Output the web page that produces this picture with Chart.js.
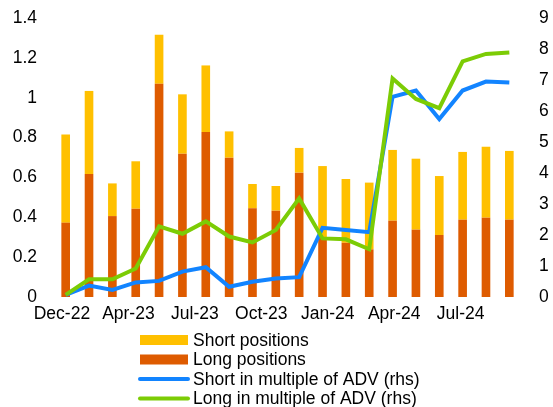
<!DOCTYPE html>
<html>
<head>
<meta charset="utf-8">
<script src="https://cdn.jsdelivr.net/npm/chart.js@4"></script>
<style>
  html, body { margin: 0; padding: 0; background: #fff; }
  #wrap { width: 553px; height: 407px; position: relative; }
</style>
</head>
<body>
<div id="wrap"><canvas id="chart"></canvas></div>
<script>
// monthly observations
const months = ['Dec-22','Jan-23','Feb-23','Mar-23','Apr-23','May-23','Jun-23','Jul-23','Aug-23','Sep-23',
                'Oct-23','Nov-23','Dec-23','Jan-24','Feb-24','Mar-24','Apr-24','May-24','Jun-24','Jul-24'];
const axisLabels = ['Dec-22','Apr-23','Jul-23','Oct-23','Jan-24','Apr-24','Jul-24'];

const longPositions  = [0.373, 0.617, 0.406, 0.443, 1.070, 0.719, 0.828, 0.699, 0.445, 0.433,
                        0.624, 0.300, 0.272, 0.239, 0.383, 0.338, 0.311, 0.388, 0.398, 0.388];
const shortPositions = [0.443, 0.417, 0.164, 0.238, 0.246, 0.298, 0.334, 0.132, 0.122, 0.124,
                        0.124, 0.357, 0.320, 0.335, 0.355, 0.356, 0.296, 0.340, 0.356, 0.345];
const shortAdv = [0.07, 0.37, 0.23, 0.47, 0.52, 0.82, 0.96, 0.33, 0.49, 0.60,
                  0.64, 2.23, 2.16, 2.09, 6.46, 6.66, 5.74, 6.66, 6.95, 6.92];
const longAdv  = [0.07, 0.57, 0.57, 0.92, 2.28, 2.04, 2.44, 1.95, 1.76, 2.16,
                  3.18, 1.89, 1.86, 1.54, 7.05, 6.39, 6.09, 7.60, 7.84, 7.89];

const FONT = '"Liberation Sans", Arial, sans-serif';
const legendOrder = [1, 0, 2, 3];

// legend is drawn under the axis, one item per row
const rowLegend = {
  id: 'rowLegend',
  afterDraw(chart) {
    const ctx = chart.ctx;
    const base = chart.chartArea.bottom;
    ctx.save();
    ctx.font = '17.5px ' + FONT;
    ctx.textBaseline = 'middle';
    legendOrder.forEach((di, row) => {
      const ds = chart.data.datasets[di];
      const y = base + 43 + row * 19.5;
      if (ds.type === 'line') {
        ctx.strokeStyle = ds.borderColor;
        ctx.lineWidth = 4;
        ctx.lineCap = 'round';
        ctx.beginPath();
        ctx.moveTo(140, y);
        ctx.lineTo(188, y);
        ctx.stroke();
      } else {
        ctx.fillStyle = ds.backgroundColor;
        ctx.fillRect(140, y - 5, 48, 10);
      }
      ctx.fillStyle = '#000';
      ctx.fillText(ds.label, 193, y + 1);
    });
    ctx.restore();
  }
};

// fixed side widths; the tick padding should not push the plot down
const fixWidth = w => axis => {
  axis.width = w;
  axis.paddingTop = 0;
  axis.paddingBottom = 0;
};

new Chart(document.getElementById('chart'), {
  type: 'bar',
  data: {
    labels: months,
    datasets: [
      { type: 'bar', label: 'Long positions', data: longPositions, backgroundColor: '#DE5B00',
        yAxisID: 'y', barPercentage: 0.37, categoryPercentage: 1, order: 2 },
      { type: 'bar', label: 'Short positions', data: shortPositions, backgroundColor: '#FFC000',
        yAxisID: 'y', barPercentage: 0.37, categoryPercentage: 1, order: 2 },
      { type: 'line', label: 'Short in multiple of ADV (rhs)', data: shortAdv, borderColor: '#1284FF',
        borderWidth: 4, pointRadius: 0, tension: 0, yAxisID: 'y2', order: 1 },
      { type: 'line', label: 'Long in multiple of ADV (rhs)', data: longAdv, borderColor: '#7CCC05',
        borderWidth: 4, pointRadius: 0, tension: 0, yAxisID: 'y2', order: 0 }
    ]
  },
  options: {
    responsive: true,
    maintainAspectRatio: false,
    animation: false,
    layout: { padding: { top: 18, bottom: 80, left: 0, right: 0 } },
    plugins: { legend: { display: false }, tooltip: { enabled: false } },
    scales: {
      x: { stacked: true, display: false, offset: true },
      xl: {
        type: 'linear', position: 'bottom', min: -0.5, max: 19.5, offset: false,
        grid: { display: false, drawTicks: false, offset: false }, border: { display: false },
        afterBuildTicks: axis => { axis.ticks = axisLabels.map((l, i) => ({ value: -0.16 + i * 2.846 })); },
        afterFit: axis => { axis.height = 30; },
        ticks: { autoSkip: false, maxRotation: 0, padding: 7, color: '#000',
                 font: { family: FONT, size: 17.5 },
                 callback: (v, i) => axisLabels[i] }
      },
      y: {
        position: 'left', stacked: true, min: 0, max: 1.4,
        grid: { display: false, drawTicks: false }, border: { display: false },
        afterFit: fixWidth(54),
        ticks: { stepSize: 0.2, padding: 17, color: '#000', font: { family: FONT, size: 17.5 },
                 callback: v => String(+v.toFixed(1)) }
      },
      y2: {
        position: 'right', min: 0, max: 9,
        grid: { display: false, drawTicks: false }, border: { display: false },
        afterFit: fixWidth(32),
        ticks: { stepSize: 1, padding: 18, color: '#000', font: { family: FONT, size: 17.5 } }
      }
    }
  },
  plugins: [rowLegend]
});
</script>
</body>
</html>
